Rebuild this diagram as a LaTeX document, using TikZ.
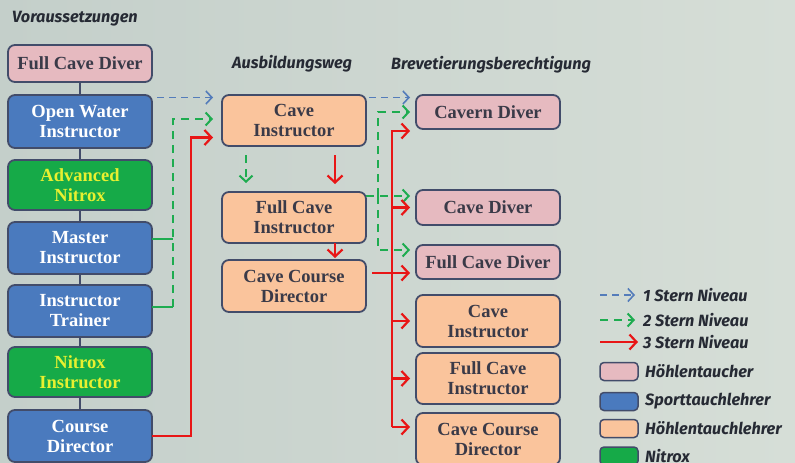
\documentclass[tikz,border=0pt]{standalone}
\usepackage{fontspec}
\setmainfont{Liberation Serif}
\newfontfamily\labelfont{Fira Sans}
\usetikzlibrary{arrows.meta,positioning}
\definecolor{mybgl}{RGB}{196,207,202}
\definecolor{mybgr}{RGB}{214,222,215}
\definecolor{mypink}{RGB}{230,186,192}
\definecolor{myblue}{RGB}{74,122,190}
\definecolor{mygreen}{RGB}{22,170,72}
\definecolor{myorange}{RGB}{250,196,156}
\definecolor{myframe}{RGB}{66,76,106}
\definecolor{mytext}{RGB}{58,58,72}
\definecolor{myyellow}{RGB}{232,240,48}
\definecolor{arrblue}{RGB}{84,124,186}
\definecolor{arrgreen}{RGB}{30,172,80}
\definecolor{arrred}{RGB}{232,22,22}
\definecolor{mydark}{RGB}{38,42,52}

\begin{document}
\begin{tikzpicture}[
    x=1pt, y=-1pt,
    box/.style={draw=myframe, line width=1.8pt, rounded corners=7pt,
        minimum width=144pt, inner sep=2pt, outer sep=0pt, align=center,
        font=\fontsize{18.5}{20}\selectfont\bfseries, text=mytext},
    pinkbox/.style={box, fill=mypink, minimum height=34pt},
    orangebox/.style={box, fill=myorange, minimum height=52pt},
    bluebox/.style={box, fill=myblue, text=white, minimum height=52pt},
    greenbox/.style={box, fill=mygreen, text=myyellow, minimum height=50pt},
    heading/.style={font=\labelfont\fontsize{16.3}{19}\selectfont\bfseries\itshape,
        text=mydark, anchor=west, inner sep=0pt},
    legbox/.style={draw=myframe, line width=1.5pt, rounded corners=4pt,
        minimum width=38pt, minimum height=18pt, inner sep=0pt, outer sep=0pt},
    link/.style={myframe, line width=1.5pt},
    lvlone/.style={arrblue, line width=1.6pt, dash pattern=on 7pt off 5pt,
        -{Straight Barb[length=6pt,width=13pt]}},
    lvltwo/.style={arrgreen, line width=2pt, dash pattern=on 8pt off 6pt,
        -{Straight Barb[length=6pt,width=13pt]}},
    stubtwo/.style={arrgreen, line width=2pt},
    lvlthree/.style={arrred, line width=2.2pt,
        -{Straight Barb[length=7pt,width=15pt]}}
]
\shade[left color=mybgl, right color=mybgr] (0,0) rectangle (795,463);
\useasboundingbox (0,0) rectangle (795,463);

% headings
\node[heading] (hvor) at (12,19) {Voraussetzungen};
\node[heading] (hweg) at (232,64) {Ausbildungsweg};
\node[heading] (hbrev) at (391,65) {Brevetierungsberechtigung};

% Voraussetzungen
\node[pinkbox, minimum height=37pt] (fcd0) at (80,63.5) {Full Cave Diver};
\node[bluebox, minimum height=53pt, below=13pt of fcd0] (owi) {Open Water\\Instructor};
\node[greenbox, below=12pt of owi] (anx) {Advanced\\Nitrox};
\node[bluebox, below=12pt of anx] (mi) {Master\\Instructor};
\node[bluebox, below=11pt of mi] (it) {Instructor\\Trainer};
\node[greenbox, below=10pt of it] (nxi) {Nitrox\\Instructor};
\node[bluebox, below=13pt of nxi] (cd) {Course\\Director};
\foreach \a/\b in {fcd0/owi, owi/anx, anx/mi, mi/it, it/nxi, nxi/cd}
    \draw[link] (\a) -- (\b);

% Ausbildungsweg
\node[orangebox, minimum height=51pt] (ci) at (294,120.5) {Cave\\Instructor};
\node[orangebox, minimum height=51pt, below=46pt of ci] (fci) {Full Cave\\Instructor};
\node[orangebox, below=17pt of fci] (ccd) {Cave Course\\Director};

% Brevetierungsberechtigung
\node[pinkbox] (cvd) at (488,112) {Cavern Diver};
\node[pinkbox, minimum height=35pt, below=61pt of cvd] (cdv) {Cave Diver};
\node[pinkbox, below=20pt of cdv] (fcd) {Full Cave Diver};
\node[orangebox, below=16pt of fcd] (rci) {Cave\\Instructor};
\node[orangebox, minimum height=51pt, below=6pt of rci] (rfci) {Full Cave\\Instructor};
\node[orangebox, below=9pt of rfci] (rccd) {Cave Course\\Director};

% links to Ausbildungsweg
\coordinate (gL) at ([xshift=21pt]it.east);
\coordinate (rL) at ([xshift=39pt]cd.east);
\coordinate (g1) at ([yshift=9pt]mi.east);
\coordinate (g2) at ([yshift=4pt]it.east);
\draw[lvlone, shorten >=9pt] ([xshift=5pt,yshift=-2.5pt]owi.north east)
    -- ([yshift=-2.5pt]ci.north west);
\draw[stubtwo] (g1) -- (g1 -| gL);
\draw[stubtwo] (g2) -- (g2 -| gL);
\draw[lvltwo, shorten >=9pt] (g2 -| gL) |- ([yshift=1.5pt]ci.west);
\draw[lvlthree, shorten >=9pt] (cd.east) -- (rL) |- ([yshift=-17pt]ci.west);

% inside Ausbildungsweg
\draw[lvltwo, shorten >=9pt] ([xshift=-48pt,yshift=-9pt]ci.south)
    -- ([xshift=-48pt]fci.north);
\draw[lvlthree, shorten >=8pt] ([xshift=41pt,yshift=-9pt]ci.south)
    -- ([xshift=41pt]fci.north);
\draw[lvlthree, shorten >=2pt] ([xshift=41pt]fci.south) -- ([xshift=41pt]ccd.north);

% links to Brevetierungsberechtigung
\coordinate (g3) at ([yshift=-4pt]fci.north east);
\coordinate (gR) at ([xshift=12pt]g3);
\coordinate (rR) at ([xshift=26pt]ccd.east);
\coordinate (r3) at ([xshift=6pt,yshift=13pt]ccd.east);
\coordinate (rB) at ([yshift=12pt]rccd.west);
\draw[lvlone, shorten >=6pt] ([xshift=3pt,yshift=-2.5pt]ci.north east)
    -- ([yshift=-2.5pt]cvd.north west);
\draw[lvltwo, shorten >=6pt] (g3) -- (g3 -| cdv.west);
\draw[lvltwo, shorten >=6pt] (gR) |- (cvd.west);
\draw[lvltwo, shorten >=6pt] (gR) |- ([yshift=12pt]fcd.west);
\draw[lvlthree, shorten >=6pt] (rR |- rB) |- ([yshift=-2pt]cvd.south west);
\foreach \t in {cdv, rci, rfci}
    \draw[lvlthree, shorten >=6pt] (rR |- \t.west) -- (\t.west);
\draw[lvlthree, shorten >=6pt] (rR |- rB) -- (rB);
\draw[lvlthree, shorten >=6pt] (r3) -- (r3 -| fcd.west);

% legend
\node[heading] (l1) at (643,295) {1 Stern Niveau};
\node[heading] (l2) at (643,320) {2 Stern Niveau};
\node[heading] (l3) at (643,342) {3 Stern Niveau};
\draw[lvlone] ([xshift=-43pt]l1.west) -- ([xshift=-8pt]l1.west);
\draw[lvltwo] ([xshift=-43pt]l2.west) -- ([xshift=-8pt]l2.west);
\draw[lvlthree] ([xshift=-43pt]l3.west) -- ([xshift=-5pt]l3.west);
\node[legbox, fill=mypink] (k1) at (619,371.5) {};
\node[legbox, fill=myblue] (k2) at (619,401.5) {};
\node[legbox, fill=myorange] (k3) at (619,428.5) {};
\node[legbox, fill=mygreen] (k4) at (619,456) {};
\node[heading, right=7pt of k1] (t1) {Höhlentaucher};
\node[heading, right=7pt of k2] (t2) {Sporttauchlehrer};
\node[heading, right=7pt of k3] (t3) {Höhlentauchlehrer};
\node[heading, right=7pt of k4] (t4) {Nitrox};
\end{tikzpicture}
\end{document}
